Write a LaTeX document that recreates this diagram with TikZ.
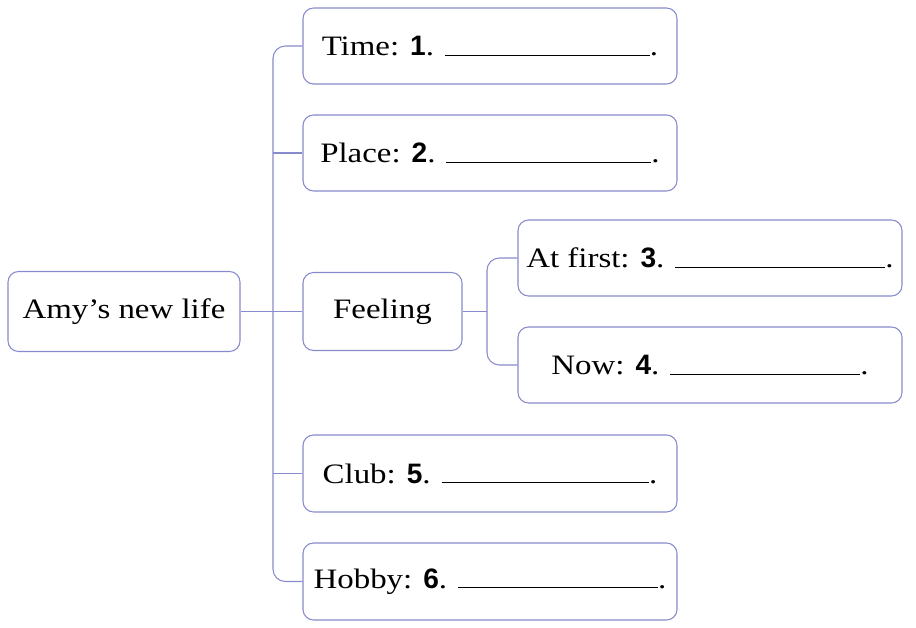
\documentclass[tikz,border=0pt]{standalone}
\usepackage{fontspec}
\setmainfont[FakeStretch=1.17]{Liberation Serif}
\newfontfamily\numfont{Liberation Sans}
\definecolor{mapline}{RGB}{135,138,205}
\newcommand{\blank}[1]{\rule{#1}{0.5pt}}
\newcommand{\num}[1]{{\numfont\bfseries #1}}
\begin{document}
\begin{tikzpicture}[
  box/.style={draw=mapline, line width=0.6pt, rounded corners=6pt,
    font=\fontsize{16}{19}\selectfont, minimum height=1.52cm},
  leaf/.style={box, minimum width=7.48cm},
  link/.style={draw=mapline, line width=0.6pt, rounded corners=7pt}]
  \useasboundingbox (0, 0) rectangle (18.32, -12.56);
  \node[box, minimum width=4.64cm, minimum height=1.6cm] (root) at (2.48, -6.23) {Amy's new life};
  \node[leaf] (time) at (9.8, -0.92) {Time: \num{1}. \blank{4.1cm}.};
  \node[leaf] (place) at (9.8, -3.06) {Place: \num{2}. \blank{4.1cm}.};
  \node[box, minimum width=3.18cm, minimum height=1.56cm] (feeling) at (7.65, -6.23) {Feeling};
  \node[leaf, minimum width=7.68cm] (first) at (14.2, -5.16) {At first: \num{3}. \blank{4.2cm}.};
  \node[leaf, minimum width=7.68cm] (now) at (14.2, -7.3) {Now: \num{4}. \blank{3.8cm}.};
  \node[leaf, minimum height=1.54cm] (club) at (9.8, -9.47) {Club: \num{5}. \blank{4.15cm}.};
  \node[leaf, minimum height=1.54cm] (hobby) at (9.8, -11.63) {Hobby: \num{6}. \blank{4cm}.};
  \coordinate (trunk) at (5.46, 0);
  \coordinate (fork) at (9.74, 0);
  \draw[link] (time.west) -- (time.west -| trunk) -- (hobby.west -| trunk) -- (hobby.west);
  \draw[link] (place.west -| trunk) -- (place.west);
  \draw[link] (club.west -| trunk) -- (club.west);
  \draw[link] (root.east) -- (feeling.west);
  \draw[link] (first.west) -- (first.west -| fork) -- (now.west -| fork) -- (now.west);
  \draw[link] (feeling.east) -- (feeling.east -| fork);
\end{tikzpicture}
\end{document}
